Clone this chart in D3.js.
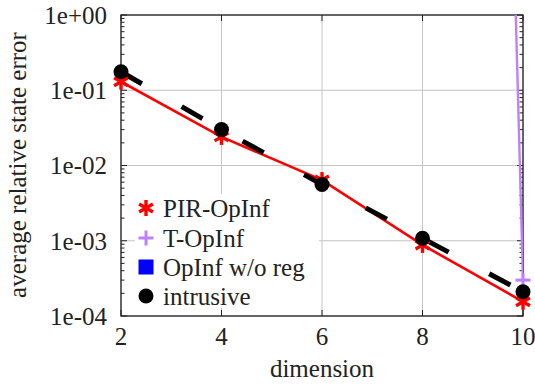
<!DOCTYPE html>
<html>
<head>
<meta charset="utf-8">
<script src="https://cdn.jsdelivr.net/npm/d3@7"></script>
<style>
body { margin: 0; background: #fff; }
svg text { font-family: "Liberation Serif", "Times New Roman", serif; fill: #222; }
</style>
</head>
<body>
<script>
var dims = [2, 4, 6, 8, 10];
var pirOpinf = [0.13, 0.024, 0.0064, 0.00088, 0.000155];
var tOpinf = [1e48, 1e47, 1e46, 3e45, 0.0003];
var opinfNoReg = [1e60, 1e60, 1e60, 1e60, 1e60];
var intrusive = [0.176, 0.030, 0.0056, 0.00108, 0.00021];
var xTicks = [2, 4, 6, 8, 10];
var yTicks = [1e-4, 1e-3, 1e-2, 1e-1, 1];
var legendLabels = ["PIR-OpInf", "T-OpInf", "OpInf w/o reg", "intrusive"];

var width = 535, height = 388;
var mLeft = 121, mRight = 523, mTop = 15, mBottom = 316;
var fontSize = 25;

var svg = d3.select("body").append("svg")
    .attr("width", width)
    .attr("height", height);

var x = d3.scaleLinear().domain([2, 10]).range([mLeft, mRight]);
var y = d3.scaleLog().domain([1e-4, 1]).range([mBottom, mTop]);

svg.append("defs").append("clipPath").attr("id", "clip")
    .append("rect")
    .attr("x", mLeft).attr("y", mTop)
    .attr("width", mRight - mLeft).attr("height", mBottom - mTop);

// grid
var grid = svg.append("g");
grid.selectAll("line.gx").data(xTicks).enter().append("line")
    .attr("x1", function(d) { return x(d); }).attr("x2", function(d) { return x(d); })
    .attr("y1", mTop).attr("y2", mBottom)
    .attr("stroke", "#c4c4c4").attr("stroke-width", 1);
grid.selectAll("line.gy").data(yTicks).enter().append("line")
    .attr("y1", function(d) { return y(d); }).attr("y2", function(d) { return y(d); })
    .attr("x1", mLeft).attr("x2", mRight)
    .attr("stroke", "#c4c4c4").attr("stroke-width", 1);

// ticks (inward, on all sides)
var minor = [];
yTicks.slice(0, -1).forEach(function(d) {
    for (var k = 2; k <= 9; k++) minor.push(d * k);
});
var ticks = svg.append("g").attr("stroke", "#222").attr("stroke-width", 1);
[mLeft, mRight].forEach(function(px) {
    var dir = px == mLeft ? 1 : -1;
    ticks.selectAll(null).data(yTicks).enter().append("line")
        .attr("x1", px).attr("x2", px + dir * 6)
        .attr("y1", function(d) { return y(d); }).attr("y2", function(d) { return y(d); });
    ticks.selectAll(null).data(minor).enter().append("line")
        .attr("x1", px).attr("x2", px + dir * 3.5)
        .attr("y1", function(d) { return y(d); }).attr("y2", function(d) { return y(d); });
});
[mTop, mBottom].forEach(function(py) {
    var dir = py == mBottom ? -1 : 1;
    ticks.selectAll(null).data(xTicks).enter().append("line")
        .attr("y1", py).attr("y2", py + dir * 6)
        .attr("x1", function(d) { return x(d); }).attr("x2", function(d) { return x(d); });
});

// frame
svg.append("rect")
    .attr("x", mLeft).attr("y", mTop)
    .attr("width", mRight - mLeft).attr("height", mBottom - mTop)
    .attr("fill", "none").attr("stroke", "#222").attr("stroke-width", 1.3);

// tick labels
var fmt = function(d) {
    var e = Math.round(Math.log10(d));
    return "1e" + (e < 0 ? "-" : "+") + d3.format("02d")(Math.abs(e));
};
svg.append("g").selectAll("text").data(yTicks).enter().append("text")
    .attr("x", mLeft - 14).attr("y", function(d) { return y(d); })
    .attr("dy", "0.35em").attr("text-anchor", "end")
    .attr("font-size", fontSize)
    .text(fmt);
svg.append("g").selectAll("text").data(xTicks).enter().append("text")
    .attr("x", function(d) { return x(d); }).attr("y", 345)
    .attr("text-anchor", "middle")
    .attr("font-size", fontSize)
    .text(function(d) { return d; });

// axis titles
svg.append("text")
    .attr("x", 322).attr("y", 377)
    .attr("text-anchor", "middle").attr("font-size", fontSize)
    .text("dimension");
svg.append("text")
    .attr("transform", "translate(26,165) rotate(-90)")
    .attr("text-anchor", "middle").attr("font-size", fontSize)
    .text("average relative state error");

// series
var plot = svg.append("g").attr("clip-path", "url(#clip)");
var marks = svg.append("g");
function pts(vals) {
    return dims.map(function(d, i) { return [d, vals[i]]; });
}
function inView(d) { return d[1] <= 1 && d[1] >= 1e-4; }
var line = d3.line()
    .x(function(d) { return x(d[0]); })
    .y(function(d) { return y(d[1]); });

function asterisk(g, s, w) {
    [90, 30, -30].forEach(function(a) {
        var r = a * Math.PI / 180;
        g.append("line")
            .attr("x1", -s * Math.cos(r)).attr("y1", -s * Math.sin(r))
            .attr("x2", s * Math.cos(r)).attr("y2", s * Math.sin(r))
            .attr("stroke", "#ff0000").attr("stroke-width", w);
    });
}
function plus(g, s, w) {
    g.append("line").attr("x1", -s).attr("x2", s).attr("y1", 0).attr("y2", 0)
        .attr("stroke", "#bf80ff").attr("stroke-width", w);
    g.append("line").attr("y1", -s).attr("y2", s).attr("x1", 0).attr("x2", 0)
        .attr("stroke", "#bf80ff").attr("stroke-width", w);
}

// PIR-OpInf
plot.append("path").datum(pts(pirOpinf))
    .attr("d", line).attr("fill", "none")
    .attr("stroke", "#ff0000").attr("stroke-width", 2.6);
marks.append("g").selectAll("g").data(pts(pirOpinf).filter(inView)).enter().append("g")
    .attr("transform", function(d) { return "translate(" + x(d[0]) + "," + y(d[1]) + ")"; })
    .each(function() { asterisk(d3.select(this), 8, 3.4); });

// T-OpInf
plot.append("path").datum(pts(tOpinf))
    .attr("d", line).attr("fill", "none")
    .attr("stroke", "#bf80ff").attr("stroke-width", 2.4);
marks.append("g").selectAll("g").data(pts(tOpinf).filter(inView)).enter().append("g")
    .attr("transform", function(d) { return "translate(" + x(d[0]) + "," + y(d[1]) + ")"; })
    .each(function() { plus(d3.select(this), 7.5, 3); });

// OpInf w/o reg (off the chart)
plot.append("path").datum(pts(opinfNoReg))
    .attr("d", line).attr("fill", "none")
    .attr("stroke", "#0000ff").attr("stroke-width", 2.4);

// intrusive
plot.append("path").datum(pts(intrusive))
    .attr("d", line).attr("fill", "none")
    .attr("stroke", "#000").attr("stroke-width", 5)
    .attr("stroke-dasharray", "24,46");
marks.append("g").selectAll("circle").data(pts(intrusive).filter(inView)).enter().append("circle")
    .attr("cx", function(d) { return x(d[0]); })
    .attr("cy", function(d) { return y(d[1]); })
    .attr("r", 7.5).attr("fill", "#000");

// legend
var leg = svg.append("g");
leg.append("rect").attr("x", 135).attr("y", 194).attr("width", 184).attr("height", 114)
    .attr("fill", "#fff");
var rowY = [208, 238, 267, 296];
legendLabels.forEach(function(lbl, i) {
    var g = leg.append("g").attr("transform", "translate(146," + rowY[i] + ")");
    if (i == 0) asterisk(g, 8, 3.4);
    if (i == 1) plus(g, 7.5, 3);
    if (i == 2) g.append("rect").attr("x", -7.5).attr("y", -7.5).attr("width", 15).attr("height", 15).attr("fill", "#0000ff");
    if (i == 3) g.append("circle").attr("r", 7.5).attr("fill", "#000");
    leg.append("text")
        .attr("x", 163).attr("y", rowY[i]).attr("dy", "0.35em")
        .attr("font-size", fontSize)
        .text(lbl);
});
</script>
</body>
</html>
